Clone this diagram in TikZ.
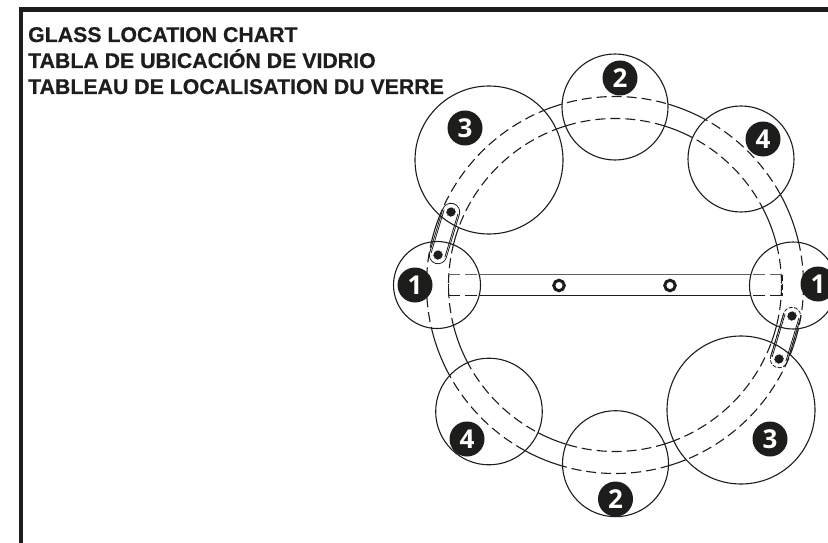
\documentclass[tikz,border=0pt]{standalone}
\usepackage{fontspec}
\setmainfont[BoldFeatures={FakeBold=0.5}]{Liberation Sans}
\newfontfamily\badgefont{Open Sans}
\definecolor{inkc}{HTML}{1D1D1B}
\tikzset{
  x=1pt,y=-1pt,
  ringline/.style={draw=inkc,line width=1.1pt},
  dashline/.style={draw=inkc,line width=1.1pt,dash pattern=on 10pt off 5pt},
  bardash/.style={draw=inkc,line width=.9pt,dash pattern=on 12pt off 5pt},
  badge/.style={circle,fill=inkc,text=white,minimum size=35pt,inner sep=0pt,font=\badgefont\bfseries\fontsize{26}{26}\selectfont},
  title/.style={anchor=base west,inner sep=0pt,font=\bfseries\fontsize{21.3}{24}\selectfont,text=inkc},
  screwa/.style={circle,draw=inkc,line width=3pt,fill=white,minimum size=10.5pt,inner sep=0pt},
  screwb/.style={circle,draw=inkc,dotted,fill=inkc,line width=.8pt,minimum size=9pt,inner sep=0pt},
}
\newcommand{\ringpaths}[1]{%
  \draw[#1] (615,285) circle[radius=188.5];
  \draw[#1] (615,285) circle[radius=166.5];
}
\newcommand{\barlines}[1]{%
  \draw[#1,draw=inkc!70,line width=1.8pt] (448,274.5) -- (782,274.5);
  \draw[#1,line width=.9pt] (448,295.5) -- (782,295.5);
}
\newcommand{\slotshape}[2]{%
  \draw[#2] (-22.5,#1) -- (22.5,#1) arc[start angle=90,end angle=-90,radius=#1] -- (-22.5,-#1) arc[start angle=270,end angle=90,radius=#1] -- cycle;
}
\newcommand{\slotsides}[1]{%
  \draw[ringline,line width=.8pt] (-22.5,#1) -- (22.5,#1) (-22.5,-#1) -- (22.5,-#1);
}
\newcommand{\glasszones}{%
  (615,107) circle[radius=53] (741,159) circle[radius=53]
  (489,160) circle[radius=74] (437,285) circle[radius=43.5]
  (793,285.5) circle[radius=43.5] (741,410) circle[radius=74]
  (489,411.5) circle[radius=53.3] (615.5,463.7) circle[radius=53]
}
\begin{document}
\begin{tikzpicture}
\useasboundingbox (0,0) rectangle (828,543);
\clip (0,0) rectangle (828,543);
\fill[white] (0,0) rectangle (828,543);
% frame
\fill[inkc] (18.5,7.5) rectangle (828,12.2);
\fill[inkc] (18.5,7.5) rectangle (23.2,543);
% solid ring and bar
\ringpaths{ringline}
\barlines{ringline}
% glass zones hide what lies under them
\fill[white] \glasszones;
% brackets
\begin{scope}[shift={(444.5,233.5)},rotate=73.2]
  \slotshape{8.7}{ringline,line width=.8pt}
  \slotsides{7.2}
\end{scope}
\begin{scope}[shift={(785.5,337.5)},rotate=73.2]
  \slotshape{8.7}{dashline,line width=.8pt,dash pattern=on 4pt off 1.5pt}
  \slotsides{7.2}
  \slotsides{8.7}
\end{scope}
% dashed parts within the zones
\begin{scope}
  \clip \glasszones;
  \ringpaths{dashline}
\end{scope}
\begin{scope}
  \clip (437,285) circle[radius=43.5] (793,285.5) circle[radius=43.5];
  \draw[bardash,draw=inkc!70,line width=1.8pt] (448,274.5) -- (490,274.5);
  \draw[bardash] (448,295.5) -- (490,295.5);
  \draw[bardash,draw=inkc!70,line width=1.8pt] (782,274.5) -- (740,274.5);
  \draw[bardash] (782,295.5) -- (740,295.5);
  \draw[dashline,line width=.9pt,dash pattern=on 6pt off 3pt] (448,274.5) -- (448,295.5);
  \draw[dashline,line width=.9pt,dash pattern=on 6pt off 3pt] (782,274.5) -- (782,295.5);
\end{scope}
% zone outlines
\draw[ringline] \glasszones;
% screws
\node[screwa] (s1) at (559,285.5) {};
\node[screwa] (s2) at (670,285.5) {};
\node[screwb] (s3) at (451,212) {};
\node[screwb] (s4) at (438,255) {};
\node[screwb] (s5) at (792,316) {};
\node[screwb] (s6) at (779,359) {};
% badges
\node[badge] (b1l) at (415,285) {1};
\node[badge] (b1r) at (818,284) {1};
\node[badge] (b2t) at (620,78) {2};
\node[badge] (b2b) at (615.5,499) {2};
\node[badge] (b3t) at (465,128) {3};
\node[badge] (b3b) at (770,439) {3};
\node[badge] (b4t) at (763,139) {4};
\node[badge] (b4b) at (467,439) {4};
% title
\node[title] (t1) at (28,42) {GLASS LOCATION CHART};
\node[title] (t2) at (28,68) {TABLA DE UBICACIÓN DE VIDRIO};
\node[title] (t3) at (28,94) {TABLEAU DE LOCALISATION DU VERRE};
\end{tikzpicture}
\end{document}
